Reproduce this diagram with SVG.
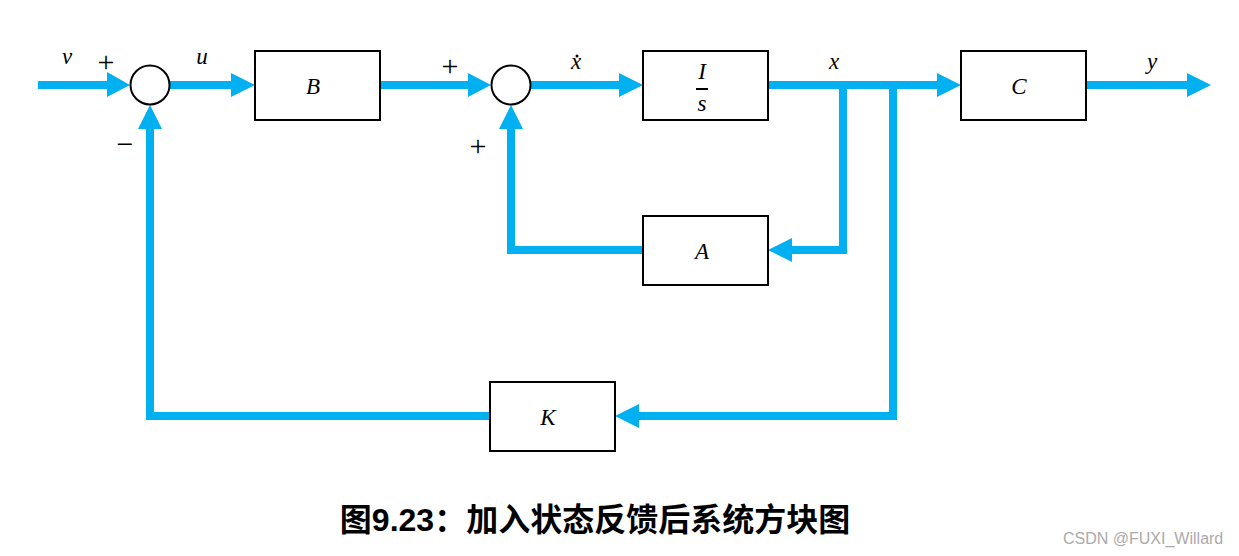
<svg xmlns="http://www.w3.org/2000/svg" width="1239" height="556" viewBox="0 0 1239 556">
<style>
.box{fill:#fff;stroke:#000;stroke-width:2}
.sum{fill:#fff;stroke:#000;stroke-width:2}
.ln{fill:none;stroke:#00B0F0;stroke-width:8}
.ah{fill:#00B0F0}
.m{font-family:"Liberation Serif",serif;font-style:italic;font-size:23px;fill:#000;text-anchor:middle}
.op{font-family:"Liberation Serif",serif;font-size:30px;fill:#000;text-anchor:middle}
.cap{font-family:"Liberation Sans","Noto Sans CJK SC",sans-serif;font-weight:bold;font-size:32px;fill:#000;text-anchor:middle}
.wm{font-family:"Liberation Sans",Arial,sans-serif;font-size:16px;fill:#aaa}
</style>
<rect width="1239" height="556" fill="#fff"/>
<g id="connectors">
<path class="ln" d="M38,85 H110"/>
<polygon class="ah" points="107,72 130,85 107,97"/>
<path class="ln" d="M170,85 H233"/>
<polygon class="ah" points="231,73 255,85 231,97"/>
<path class="ln" d="M380,85 H471"/>
<polygon class="ah" points="468,73 491,85 468,97"/>
<path class="ln" d="M531,85 H622"/>
<polygon class="ah" points="619,73 643,85 619,97"/>
<path class="ln" d="M768,85 H940"/>
<polygon class="ah" points="937,73 961,85 937,97"/>
<path class="ln" d="M1086,85 H1190"/>
<polygon class="ah" points="1187,73 1211,85 1187,97"/>
<path class="ln" d="M843,85 V250 H790"/>
<polygon class="ah" points="792,238 768,250 792,262"/>
<path class="ln" d="M643,250 H511 V126"/>
<polygon class="ah" points="499,129 511,105 523,129"/>
<path class="ln" d="M893,85 V416 H637"/>
<polygon class="ah" points="639,404 615,416 639,428"/>
<path class="ln" d="M490,416 H150 V126"/>
<polygon class="ah" points="138,129 150,105 162,129"/>
</g>
<g id="sum1"><circle class="sum" cx="150" cy="85" r="19.5"/></g>
<g id="sum2"><circle class="sum" cx="511" cy="85" r="19.5"/></g>
<g id="B"><rect class="box" x="255" y="51" width="125" height="69"/><text class="m" x="313" y="94">B</text></g>
<g id="Is"><rect class="box" x="643" y="51" width="125" height="69"/><text class="m" x="702" y="79">I</text><rect x="696" y="88" width="12" height="2" fill="#000"/><text class="m" x="702" y="111">s</text></g>
<g id="C"><rect class="box" x="961" y="51" width="125" height="69"/><text class="m" x="1019" y="94">C</text></g>
<g id="A"><rect class="box" x="643" y="216" width="125" height="69"/><text class="m" x="702" y="259">A</text></g>
<g id="K"><rect class="box" x="490" y="382" width="125" height="69"/><text class="m" x="548" y="425">K</text></g>
<g id="labels">
<text class="m" x="67" y="64">v</text>
<text class="op" x="106" y="72">+</text>
<text class="m" x="202" y="64">u</text>
<text class="op" x="125" y="154">−</text>
<text class="op" x="450" y="76">+</text>
<text class="op" x="478" y="156">+</text>
<text class="m" x="576" y="69">x</text>
<circle cx="577" cy="56" r="1.5" fill="#000"/>
<text class="m" x="834" y="69">x</text>
<text class="m" x="1152" y="69">y</text>
</g>
<text class="cap" x="595" y="531">图9.23：加入状态反馈后系统方块图</text>
<text class="wm" x="1063" y="544">CSDN @FUXI_Willard</text>
</svg>
